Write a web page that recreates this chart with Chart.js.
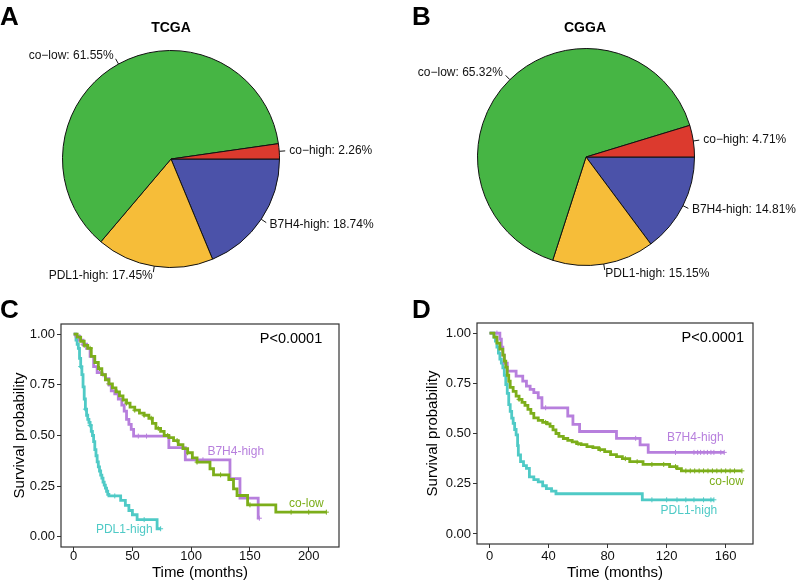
<!DOCTYPE html>
<html>
<head>
<meta charset="utf-8">
<script src="https://cdn.jsdelivr.net/npm/chart.js@4.4.0/dist/chart.umd.min.js"></script>
<style>
  body { margin: 0; background: #fff; }
  #wrap { position: relative; width: 797px; height: 583px; overflow: hidden; font-family: 'Liberation Sans', Arial, sans-serif; color: #000; }
  .panel { position: absolute; }
  .letter { position: absolute; font-weight: bold; font-size: 26px; line-height: 26px; }
  .ptitle { position: absolute; width: 120px; text-align: center; font-weight: bold; font-size: 14px; line-height: 14px; }
</style>
</head>
<body>
<div id="wrap">
  <div class="panel" style="left:0;top:0"><canvas id="pieA" width="398" height="290"></canvas></div>
  <div class="panel" style="left:398px;top:0"><canvas id="pieB" width="399" height="290"></canvas></div>
  <div class="panel" style="left:0;top:290px"><canvas id="kmC" width="398" height="293"></canvas></div>
  <div class="panel" style="left:398px;top:290px"><canvas id="kmD" width="399" height="293"></canvas></div>
  <div class="letter" style="left:0;top:3px">A</div>
  <div class="letter" style="left:412px;top:3px">B</div>
  <div class="letter" style="left:0;top:296px">C</div>
  <div class="letter" style="left:412px;top:296px">D</div>
  <div class="ptitle" style="left:111px;top:20px">TCGA</div>
  <div class="ptitle" style="left:525px;top:20px">CGGA</div>
</div>
<script>
// pie data (clockwise from 3 o'clock)
const pieLabels = ['B7H4-high', 'PDL1-high', 'co\u2212low', 'co\u2212high'];
const pieColors = ['#4b52a9', '#f6bd39', '#46b544', '#dc3a2e'];
const tcgaShares = [18.74, 17.45, 61.55, 2.26];
const cggaShares = [14.81, 15.15, 65.32, 4.71];

// KM curves, TCGA
const tcgaLowT = [0, 3, 6, 9, 12, 15, 18, 21, 24, 27, 30, 33, 36, 39, 42, 45, 48, 52, 56, 60, 64, 67, 70, 74, 77, 81, 85, 89, 93, 97, 101, 105, 116, 119, 132, 136, 139, 148, 172, 215];
const tcgaLowS = [1, .985, .965, .945, .93, .89, .86, .83, .80, .775, .755, .735, .715, .695, .675, .66, .64, .625, .61, .60, .585, .56, .535, .52, .50, .49, .475, .455, .435, .415, .39, .369, .336, .306, .283, .237, .204, .158, .122, .122];
const tcgaB7T = [0, 2, 5, 8, 11, 14, 17, 20, 24, 27, 30, 32, 35, 38, 41, 43, 45, 47, 49, 51, 81, 95, 133, 141.5, 157, 158];
const tcgaB7S = [1, .99, .97, .95, .93, .89, .84, .81, .80, .78, .75, .72, .705, .68, .65, .62, .58, .555, .53, .497, .44, .38, .287, .191, .092, .092];
const tcgaPdT = [0, 2, 3, 4, 5, 6, 7, 8, 9, 10, 11, 12, 13, 14, 15, 16, 17, 18, 19, 20, 21, 22, 23, 24, 25, 26, 27, 28, 29, 30, 40, 44, 47, 50, 54, 71, 74];
const tcgaPdS = [1, .97, .95, .93, .88, .84, .80, .74, .68, .63, .60, .58, .565, .55, .52, .50, .47, .43, .40, .37, .345, .325, .305, .29, .27, .255, .24, .225, .21, .202, .18, .155, .13, .109, .085, .04, .04];
const tcgaLowCens = [5, 9, 14, 22, 30, 37, 45, 52, 60, 66, 72, 80, 88, 97, 105, 125, 150, 185, 200, 215];
const tcgaB7Cens = [3, 8, 25, 55, 62, 110, 158];
const tcgaPdCens = [6, 10, 14, 35, 60, 74];

// KM curves, CGGA
const cggaLowT = [0, 3, 5, 7, 9, 10, 11, 12, 13, 14, 16, 18, 20, 22, 24, 26, 28, 30, 33, 36, 39, 41, 43, 45, 47, 50, 53, 56, 59, 62, 66, 70, 74, 78, 82, 86, 90, 95, 104, 122, 127, 130, 171];
const cggaLowS = [1, .98, .95, .92, .89, .86, .83, .79, .76, .73, .71, .686, .67, .655, .64, .62, .60, .578, .565, .555, .548, .535, .518, .50, .486, .475, .466, .458, .45, .445, .435, .43, .42, .41, .395, .385, .375, .36, .346, .335, .325, .314, .314];
const cggaB7T = [0, 7, 8, 9, 10, 12, 18, 22.5, 25, 27.5, 30, 33, 35.5, 53, 56.5, 61, 86, 102, 107.5, 159];
const cggaB7S = [1, .97, .93, .89, .85, .81, .786, .761, .736, .72, .703, .678, .628, .587, .545, .51, .476, .443, .406, .406];
const cggaPdT = [0, 3, 4, 5, 6, 7, 8, 9, 10, 11, 12, 13, 14, 15, 16, 17, 18, 19, 19.5, 21, 23, 25, 27, 30, 33, 36, 38.5, 42, 45, 103.5, 152];
const cggaPdS = [1, .98, .96, .93, .90, .87, .85, .827, .79, .744, .70, .644, .61, .577, .55, .52, .493, .44, .393, .36, .34, .326, .284, .27, .259, .24, .226, .213, .20, .17, .17];
const cggaLowCens = [20, 38, 60, 75, 92, 100, 110, 118, 126, 133, 136, 139, 142, 145, 148, 151, 154, 157, 160, 163, 166, 171];
const cggaB7Cens = [5, 38, 99, 126, 138.5, 141, 143, 145.3, 147.6, 150, 152, 156.7, 159];
const cggaPdCens = [110, 120, 127, 133, 138.5, 145, 150, 152];

const colLow = '#7cae1a';
const colB7 = '#b77fdd';
const colPd = '#4fcac6';

Chart.defaults.font.family = "'Liberation Sans', Arial, sans-serif";
Chart.defaults.color = '#111';

const pieLabelPlugin = {
  id: 'pieLabels',
  afterDatasetsDraw(chart) {
    const ctx = chart.ctx;
    const vals = chart.data.datasets[0].data;
    ctx.save();
    ctx.font = "12px 'Liberation Sans', Arial, sans-serif";
    ctx.fillStyle = '#111';
    ctx.strokeStyle = '#111';
    ctx.lineWidth = 1;
    ctx.textBaseline = 'middle';
    chart.getDatasetMeta(0).data.forEach((arc, i) => {
      const p = arc.getProps(['x', 'y', 'startAngle', 'endAngle', 'outerRadius'], true);
      const a = (p.startAngle + p.endAngle) / 2;
      const c = Math.cos(a), s = Math.sin(a);
      ctx.beginPath();
      ctx.moveTo(p.x + c * p.outerRadius, p.y + s * p.outerRadius);
      ctx.lineTo(p.x + c * (p.outerRadius + 6), p.y + s * (p.outerRadius + 6));
      ctx.stroke();
      ctx.textAlign = c >= 0 ? 'left' : 'right';
      ctx.fillText(chart.data.labels[i] + ': ' + vals[i].toFixed(2) + '%',
        p.x + c * (p.outerRadius + 10), p.y + s * (p.outerRadius + 10));
    });
    ctx.restore();
  }
};

function pieChart(id, values, pad) {
  return new Chart(document.getElementById(id), {
    type: 'pie',
    data: { labels: pieLabels, datasets: [{ data: values, backgroundColor: pieColors, borderColor: '#111', borderWidth: 1 }] },
    options: {
      responsive: false, animation: false, rotation: 90,
      layout: { padding: pad },
      plugins: { legend: { display: false }, tooltip: { enabled: false } }
    },
    plugins: [pieLabelPlugin]
  });
}

pieChart('pieA', tcgaShares, { left: 62, top: 50, right: 118, bottom: 22 });
pieChart('pieB', cggaShares, { left: 79, top: 48, right: 102, bottom: 24 });

// frame round the plot + text annotations
const framePlugin = {
  id: 'frame',
  afterDraw(chart) {
    const { ctx, chartArea: a } = chart;
    ctx.save();
    ctx.strokeStyle = '#333';
    ctx.lineWidth = 1.2;
    ctx.strokeRect(a.left, a.top, a.right - a.left, a.bottom - a.top);
    const notes = chart.options.plugins.frame.notes;
    notes.forEach(n => {
      ctx.font = n.size + "px 'Liberation Sans', Arial, sans-serif";
      ctx.fillStyle = n.color;
      ctx.textAlign = n.align;
      ctx.textBaseline = 'middle';
      ctx.fillText(n.text, chart.scales.x.getPixelForValue(n.x), chart.scales.y.getPixelForValue(n.y));
    });
    ctx.restore();
  }
};

function survAt(times, surv, t) {
  let s = surv[0];
  for (let i = 0; i < times.length; i++) if (times[i] <= t) s = surv[i];
  return s;
}

function curve(times, surv, color) {
  return {
    type: 'line', data: times.map((t, i) => ({ x: t, y: surv[i] })),
    borderColor: color, borderWidth: 2.8, stepped: 'before', pointRadius: 0, fill: false
  };
}

function censors(times, surv, cens, color) {
  return {
    type: 'scatter', data: cens.map(t => ({ x: t, y: survAt(times, surv, t) })),
    borderColor: color, backgroundColor: color, pointStyle: 'cross', pointRadius: 2.5, borderWidth: 1, showLine: false
  };
}

function kmChart(id, cfg) {
  return new Chart(document.getElementById(id), {
    type: 'line',
    data: { datasets: cfg.datasets },
    options: {
      responsive: false, animation: false,
      layout: { padding: cfg.padding },
      plugins: { legend: { display: false }, tooltip: { enabled: false }, frame: { notes: cfg.notes } },
      scales: {
        x: {
          type: 'linear', min: cfg.xMin, max: cfg.xMax,
          afterBuildTicks: s => { s.ticks = cfg.xTicks.map(v => ({ value: v })); },
          afterFit: s => { s.height = cfg.xAxisH; },
          grid: { drawOnChartArea: false, drawTicks: true, tickLength: 4, color: '#333', lineWidth: 1 },
          border: { display: false },
          ticks: { color: '#111', font: { size: 13 }, padding: cfg.xPad, maxRotation: 0, autoSkip: false },
          title: { display: true, text: 'Time (months)', color: '#000', font: { size: 15 }, padding: { top: 0, bottom: 1 } }
        },
        y: {
          type: 'linear', min: -0.05, max: 1.05,
          afterBuildTicks: s => { s.ticks = [0, 0.25, 0.5, 0.75, 1].map(v => ({ value: v })); },
          afterFit: s => { s.width = cfg.yAxisW; },
          grid: { drawOnChartArea: false, drawTicks: true, tickLength: 4, color: '#333', lineWidth: 1 },
          border: { display: false },
          ticks: { color: '#111', font: { size: 13 }, padding: 2, callback: v => v.toFixed(2) },
          title: { display: true, text: 'Survival probability', color: '#000', font: { size: 15 }, padding: { top: cfg.yTitlePad, bottom: 0 } }
        }
      }
    },
    plugins: [framePlugin]
  });
}

kmChart('kmC', {
  datasets: [
    curve(tcgaLowT, tcgaLowS, colLow), curve(tcgaB7T, tcgaB7S, colB7), curve(tcgaPdT, tcgaPdS, colPd),
    censors(tcgaLowT, tcgaLowS, tcgaLowCens, colLow), censors(tcgaB7T, tcgaB7S, tcgaB7Cens, colB7), censors(tcgaPdT, tcgaPdS, tcgaPdCens, colPd)
  ],
  padding: { left: 0, top: 34, right: 59, bottom: 0 },
  xMin: -10.75, xMax: 225.75, xTicks: [0, 50, 100, 150, 200],
  xAxisH: 36, xPad: -2, yAxisW: 61, yTitlePad: 11,
  notes: [
    { text: 'P<0.0001', x: 211.5, y: 0.975, size: 14.5, color: '#000', align: 'right' },
    { text: 'B7H4-high', x: 137.9, y: 0.42, size: 12, color: colB7, align: 'center' },
    { text: 'co-low', x: 198, y: 0.165, size: 12, color: colLow, align: 'center' },
    { text: 'PDL1-high', x: 43.1, y: 0.033, size: 12, color: colPd, align: 'center' }
  ]
});

kmChart('kmD', {
  datasets: [
    curve(cggaLowT, cggaLowS, colLow), curve(cggaB7T, cggaB7S, colB7), curve(cggaPdT, cggaPdS, colPd),
    censors(cggaLowT, cggaLowS, cggaLowCens, colLow), censors(cggaB7T, cggaB7S, cggaB7Cens, colB7), censors(cggaPdT, cggaPdS, cggaPdCens, colPd)
  ],
  padding: { left: 0, top: 33, right: 44, bottom: 0 },
  xMin: -8.5, xMax: 178.5, xTicks: [0, 40, 80, 120, 160],
  xAxisH: 39, xPad: 1, yAxisW: 79, yTitlePad: 26,
  notes: [
    { text: 'P<0.0001', x: 172.4, y: 0.975, size: 14.5, color: '#000', align: 'right' },
    { text: 'B7H4-high', x: 139.4, y: 0.481, size: 12, color: colB7, align: 'center' },
    { text: 'co-low', x: 160.6, y: 0.261, size: 12, color: colLow, align: 'center' },
    { text: 'PDL1-high', x: 135.1, y: 0.115, size: 12, color: colPd, align: 'center' }
  ]
});
</script>
</body>
</html>
